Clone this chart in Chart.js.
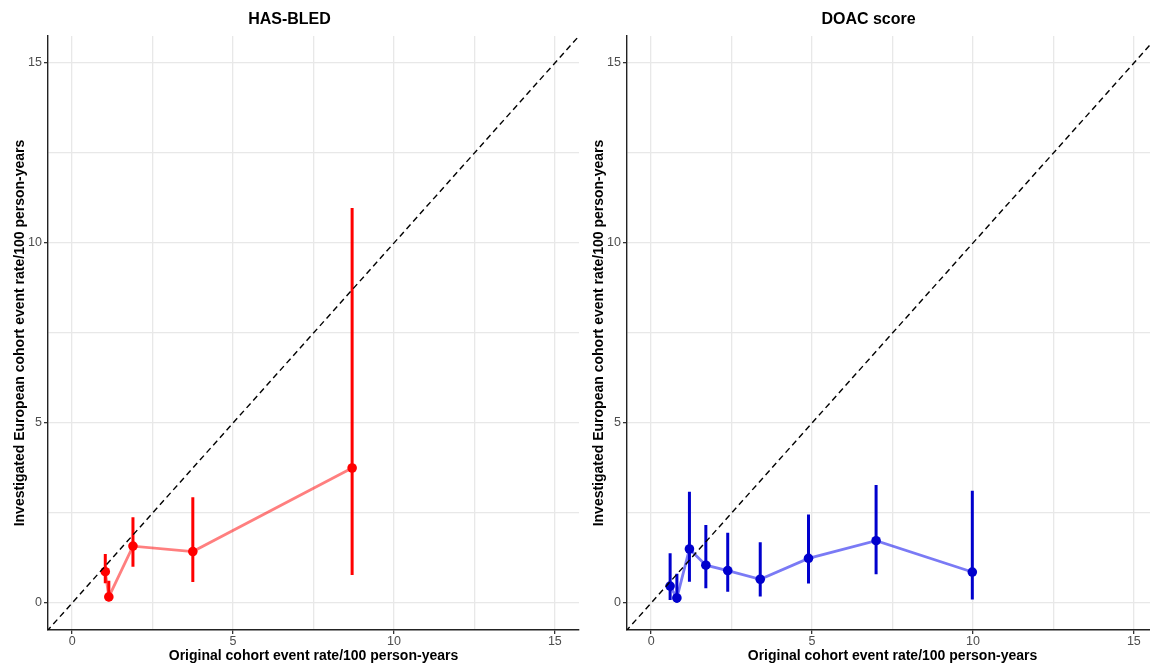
<!DOCTYPE html>
<html>
<head>
<meta charset="utf-8">
<script src="https://cdn.jsdelivr.net/npm/chart.js@4"></script>
<style>
  html, body { margin: 0; padding: 0; background: #fff; overflow: hidden; }
  #wrap { position: relative; width: 1150px; height: 665px; overflow: hidden; }
  canvas { position: absolute; top: 0; }
</style>
</head>
<body>
<div id="wrap">
  <canvas id="hasbled" width="627" height="665" style="left:0px"></canvas>
  <canvas id="doac" width="627" height="665" style="left:579px"></canvas>
</div>
<script>
const gridValues = [0, 2.5, 5, 7.5, 10, 12.5, 15];
const tickLabels = ["0", "5", "10", "15"];
const axisMin = -0.75;
const axisMax = 15.75;

// HAS-BLED panel
const hasbledX = [1.03, 1.14, 1.89, 3.75, 8.70];
const hasbledY = [0.87, 0.17, 1.58, 1.43, 3.75];
const hasbledLo = [0.55, 0.05, 1.01, 0.58, 0.78];
const hasbledHi = [1.36, 0.62, 2.38, 2.94, 10.97];

// DOAC score panel
const doacX = [0.59, 0.80, 1.19, 1.70, 2.38, 3.39, 4.89, 6.99, 9.98];
const doacY = [0.47, 0.14, 1.50, 1.05, 0.90, 0.66, 1.24, 1.73, 0.86];
const doacLo = [0.08, 0.01, 0.59, 0.41, 0.31, 0.18, 0.54, 0.80, 0.10];
const doacHi = [1.38, 0.81, 3.09, 2.17, 1.95, 1.69, 2.46, 3.28, 3.12];

const FONT = "'Liberation Sans', Arial, sans-serif";

function axisOptions(titleText, horizontal) {
  return {
    type: "linear",
    min: axisMin,
    max: axisMax,
    afterBuildTicks: (scale) => {
      scale.ticks = gridValues.map(v => ({ value: v }));
    },
    afterFit: (scale) => {
      if (horizontal) scale.height = 35;
      else scale.width = 48;
    },
    ticks: {
      autoSkip: false,
      maxRotation: 0,
      padding: horizontal ? 0 : 2,
      color: "#4D4D4D",
      font: { family: FONT, size: 12.5 },
      callback: (v) => {
        const label = String(v);
        return tickLabels.includes(label) ? label : "";
      }
    },
    grid: {
      color: "#E8E8E8",
      lineWidth: 1.3,
      tickLength: 4,
      tickColor: (ctx) => (ctx.tick && ctx.tick.value % 5 === 0) ? "#333333" : "rgba(0,0,0,0)"
    },
    border: { display: true, color: "#222222", width: 1.4 },
    title: {
      display: true,
      text: titleText,
      color: "#000",
      font: { family: FONT, size: 14, weight: "bold" },
      padding: horizontal ? { top: 0, bottom: 0 } : { top: 12, bottom: 0 }
    }
  };
}

function makePanel(id, title, xs, ys, lo, hi, pointColor, lineColor) {
  const points = xs.map((x, i) => ({ x: x, y: ys[i] }));
  const bars = xs.flatMap((x, i) => [
    { x: x, y: lo[i] },
    { x: x, y: hi[i] },
    { x: x, y: null }
  ]);

  new Chart(document.getElementById(id).getContext("2d"), {
    type: "line",
    data: {
      datasets: [
        {
          label: "identity",
          data: [{ x: -1, y: -1 }, { x: 17, y: 17 }],
          borderColor: "#000",
          borderWidth: 1.4,
          borderDash: [6, 4],
          pointRadius: 0
        },
        {
          label: "points",
          data: points,
          showLine: false,
          pointRadius: 4.8,
          pointBackgroundColor: pointColor,
          pointBorderColor: pointColor,
          pointBorderWidth: 0
        },
        {
          label: "ci",
          data: bars,
          spanGaps: false,
          borderColor: pointColor,
          borderWidth: 3,
          borderCapStyle: "butt",
          pointRadius: 0
        },
        {
          label: "trend",
          data: points,
          borderColor: lineColor,
          borderWidth: 2.8,
          pointRadius: 0
        }
      ]
    },
    options: {
      responsive: false,
      animation: false,
      layout: { padding: { left: 0, right: 48, top: 0, bottom: 0 } },
      plugins: {
        legend: { display: false },
        tooltip: { enabled: false },
        title: {
          display: true,
          text: title,
          color: "#000",
          font: { family: FONT, size: 16, weight: "bold", lineHeight: 1.2 },
          padding: { top: 9.5, bottom: 7.3 }
        }
      },
      scales: {
        x: axisOptions("Original cohort event rate/100 person-years", true),
        y: axisOptions("Investigated European cohort event rate/100 person-years", false)
      }
    }
  });
}

makePanel("hasbled", "HAS-BLED", hasbledX, hasbledY, hasbledLo, hasbledHi, "#FF0000", "rgba(255,0,0,0.5)");
makePanel("doac", "DOAC score", doacX, doacY, doacLo, doacHi, "#0000CD", "rgba(0,0,235,0.52)");
</script>
</body>
</html>
